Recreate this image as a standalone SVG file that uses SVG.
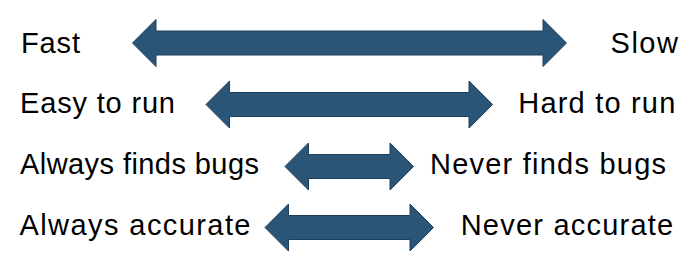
<svg xmlns="http://www.w3.org/2000/svg" width="700" height="268" viewBox="0 0 700 268">
<style>
.arr{fill:#2A5577;stroke:#1E3F5C;stroke-width:1;stroke-linejoin:miter}
.t{font-family:"Liberation Sans",Arial,sans-serif;font-size:29px;fill:#000}
</style>
<rect width="700" height="268" fill="#fff"/>
<g id="connectors">
<path id="arrow1" class="arr" d="M132.5,43 L156,19.5 L156,31 L543,31 L543,19.5 L566.5,43 L543,66.5 L543,55 L156,55 L156,66.5 Z"/>
<path id="arrow2" class="arr" d="M206,104.5 L229.5,81 L229.5,92.5 L469,92.5 L469,81 L492.5,104.5 L469,128 L469,116.5 L229.5,116.5 L229.5,128 Z"/>
<path id="arrow3" class="arr" d="M285,166.5 L308.5,143 L308.5,154.5 L390,154.5 L390,143 L413.5,166.5 L390,190 L390,178.5 L308.5,178.5 L308.5,190 Z"/>
<path id="arrow4" class="arr" d="M265,227.5 L288.5,204 L288.5,215.5 L410,215.5 L410,204 L433.5,227.5 L410,251 L410,239.5 L288.5,239.5 L288.5,251 Z"/>
</g>
<g id="fast"><text class="t" x="21" y="52.5" textLength="59">Fast</text></g>
<g id="slow"><text class="t" x="610.5" y="52.5" textLength="67.5">Slow</text></g>
<g id="easy"><text class="t" x="20" y="113.3" textLength="155">Easy to run</text></g>
<g id="hard"><text class="t" x="518.3" y="113.3" textLength="157">Hard to run</text></g>
<g id="alwaysfinds"><text class="t" x="20" y="173.5" textLength="239">Always finds bugs</text></g>
<g id="neverfinds"><text class="t" x="430" y="173.5" textLength="236">Never finds bugs</text></g>
<g id="alwaysacc"><text class="t" x="19.5" y="235" textLength="231">Always accurate</text></g>
<g id="neveracc"><text class="t" x="460.7" y="235" textLength="212.5">Never accurate</text></g>
</svg>
